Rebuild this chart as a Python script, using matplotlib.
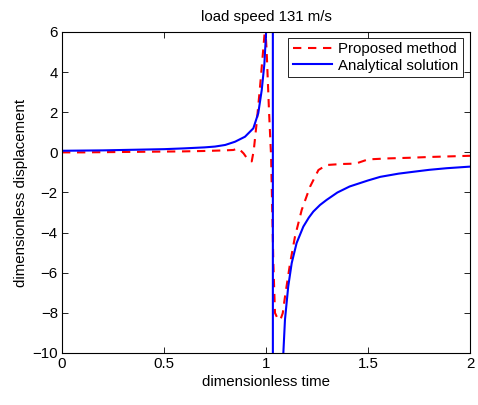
import matplotlib
matplotlib.use("Agg")
import matplotlib.pyplot as plt

plt.rcParams['font.family'] = ['Liberation Sans', 'DejaVu Sans']

title = "load speed 131 m/s"
xlabel = "dimensionless time"
ylabel = "dimensionless displacement"
legend_labels = ["Proposed method", "Analytical solution"]

# Proposed method (red dashed)
t_prop = [0.0, 0.1, 0.2, 0.3, 0.4, 0.5, 0.6, 0.7, 0.8, 0.84, 0.865, 0.89, 0.913, 0.93,
          0.94, 0.954, 0.971, 0.987, 0.996, 1.003, 1.015, 1.025, 1.036, 1.044, 1.06,
          1.072, 1.082, 1.093, 1.118, 1.142, 1.175, 1.216, 1.257, 1.297, 1.37, 1.44,
          1.5, 1.6, 1.7, 1.8, 1.9, 2.0]
y_prop = [0.0, 0.0, 0.01, 0.02, 0.03, 0.04, 0.05, 0.07, 0.1, 0.12, 0.2, -0.05, -0.38, -0.45,
          0.1, 1.45, 3.3, 5.2, 6.3, 5.1, 2.0, -0.2, -5.5, -8.0, -8.35,
          -8.3, -8.02, -7.2, -5.53, -4.2, -2.87, -1.71, -0.88, -0.63, -0.58, -0.56,
          -0.35, -0.3, -0.27, -0.23, -0.2, -0.17]

# Analytical solution (blue solid)
t_anal = [0.0, 0.2, 0.4, 0.5, 0.6, 0.7, 0.75, 0.8, 0.848, 0.897, 0.938, 0.962, 0.979,
          0.992, 1.0, 1.005, 1.015, 1.025, 1.033, 1.036, 1.05, 1.07, 1.085, 1.093, 1.109,
          1.126, 1.15, 1.183, 1.21, 1.232, 1.265, 1.297, 1.35, 1.41, 1.5, 1.56, 1.65,
          1.72, 1.8, 1.885, 2.0]
y_anal = [0.08, 0.1, 0.14, 0.16, 0.2, 0.25, 0.29, 0.37, 0.53, 0.78, 1.2, 1.95, 3.1,
          4.4, 5.9, 7.0, 10.0, 20.0, 80.0, -300.0, -40.0, -16.0, -10.0, -8.34, -6.68,
          -5.52, -4.52, -3.7, -3.25, -2.95, -2.62, -2.37, -2.0, -1.7, -1.4, -1.22, -1.06,
          -0.97, -0.87, -0.79, -0.71]

xticks = [0, 0.5, 1, 1.5, 2]
xticklabels = ["0", "0.5", "1", "1.5", "2"]
yticks = [-10, -8, -6, -4, -2, 0, 2, 4, 6]
yticklabels = ["\u221210", "\u22128", "\u22126", "\u22124", "\u22122", "0", "2", "4", "6"]

FS = 10.8

fig = plt.figure(figsize=(4.78, 4.05), dpi=100)
ax = fig.add_axes([62/478, 1 - 353/405, 408/478, 321/405])

ax.plot(t_prop, y_prop, color=(1, 0, 0), linewidth=1.5, linestyle=(0, (4, 3.2)),
        label=legend_labels[0])
ax.plot(t_anal, y_anal, color=(0, 0, 1), linewidth=1.5, label=legend_labels[1])

ax.set_xlim(0, 2)
ax.set_ylim(-10, 6)
ax.set_xticks(xticks)
ax.set_xticklabels(xticklabels)
ax.set_yticks(yticks)
ax.set_yticklabels(yticklabels)
ax.tick_params(direction='in', top=True, right=True, length=4, width=0.6,
               labelsize=FS, pad=3)
for s in ax.spines.values():
    s.set_linewidth(0.8)

ax.set_title(title, fontsize=FS, pad=8)
ax.set_xlabel(xlabel, fontsize=FS, labelpad=3)
ax.set_ylabel(ylabel, fontsize=FS, labelpad=3)

leg = ax.legend(loc='upper right', bbox_to_anchor=(0.982, 0.982), borderaxespad=0,
                fontsize=FS, fancybox=False, framealpha=1, edgecolor='black',
                handlelength=2.6, handletextpad=0.4, borderpad=0.3, labelspacing=0.15)
leg.get_frame().set_linewidth(0.6)

fig.savefig("out.png", dpi=100)
